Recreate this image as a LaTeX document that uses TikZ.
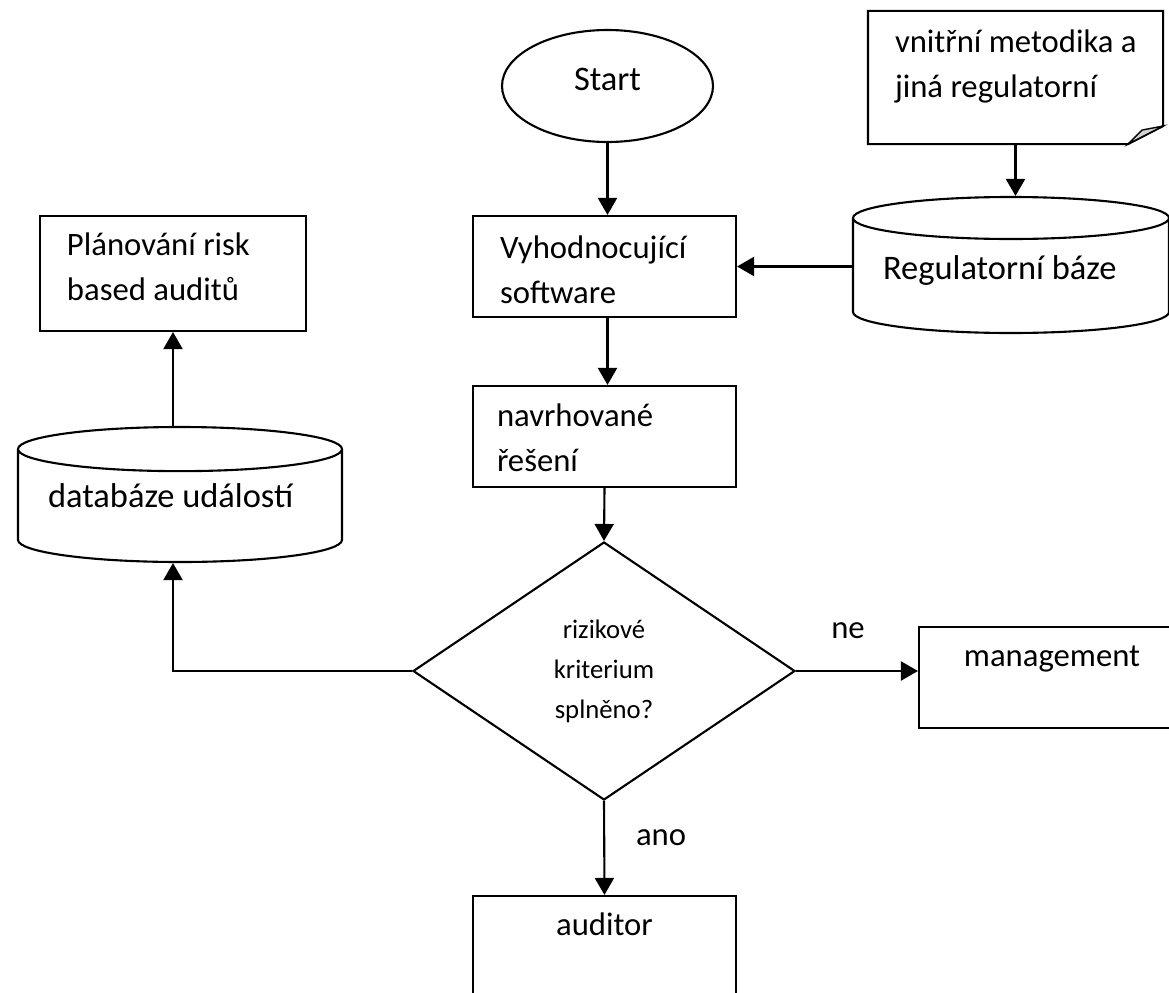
\documentclass[tikz,border=0pt]{standalone}
\usepackage{fontspec}
\setmainfont{Carlito}
\usetikzlibrary{positioning}
\usetikzlibrary{shapes.geometric}
\usetikzlibrary{arrows.meta}

\begin{document}
\begin{tikzpicture}[line width=0.6pt, font=\fontsize{9.3}{12.8}\selectfont,
		box/.style={draw, rectangle, minimum width=2.63cm, minimum height=1.01cm, inner sep=0pt},
		tank/.style={draw, cylinder, shape border rotate=90, aspect=0.18, inner sep=0pt, anchor=shape center, font=\fontsize{9.8}{12}\selectfont},
		txt/.style={align=left, inner sep=0pt},
		arr/.style={-{Triangle[length=1.7mm,width=1.9mm]}}]
		\useasboundingbox (0,0) rectangle (11.69,-9.93);

		%main column
		\node[draw, ellipse, minimum width=2.11cm, minimum height=1.12cm, inner sep=0pt, text depth=0.4em, font=\fontsize{9.8}{12}\selectfont] (start) at (6.075,-0.86) {Start};
		\node[box] (soft) at (6.045,-2.665) {};
		\node[box] (navrh) at (6.045,-4.365) {};
		\node[draw, diamond, minimum width=3.82cm, minimum height=2.58cm, inner sep=0pt, align=center, font=\fontsize{7.6}{11.4}\selectfont] (krit) at (6.04,-6.71) {rizikové\\kriterium\\splněno?};
		\node[box] (aud) at (6.045,-9.465) {};

		%right side
		\node[minimum width=2.93cm, minimum height=1.31cm, inner sep=0pt] (doc) at (10.155,-0.775) {};
		\draw (doc.north west) -- (doc.north east) -- ([yshift=1.8mm]doc.south east) -- ([xshift=-3.5mm]doc.south east) -- (doc.south west) -- cycle;
		\filldraw[fill=gray!35, line width=0.4pt] ([xshift=-3.5mm]doc.south east) -- ([xshift=-2.1mm,yshift=1.4mm]doc.south east) -- ([yshift=1.8mm]doc.south east) -- cycle;
		\node[tank, minimum width=3.16cm, minimum height=1.36cm] (regb) at (10.11,-2.65) {\phantom{Regulatorní báze}};
		\node[box, minimum width=2.66cm] (mgmt) at (10.52,-6.775) {};

		%left side
		\node[box, minimum width=2.66cm, minimum height=1.15cm] (plan) at (1.73,-2.735) {};
		\node[tank, minimum width=3.24cm, minimum height=1.35cm] (udal) at (1.80,-4.945) {\phantom{databáze událostí}};

		%texts (base = last line)
		\node[txt, anchor=base west] (soft-t) at ([xshift=2.7mm, yshift=-8.9mm]soft.north west) {Vyhodnocující\\software};
		\node[txt, anchor=base west] (navrh-t) at ([xshift=2.4mm, yshift=-8.7mm]navrh.north west) {navrhované\\řešení};
		\node[txt, anchor=base west] (plan-t) at ([xshift=2.7mm, yshift=-8.6mm]plan.north west) {Plánování risk\\based auditů};
		\node[txt, anchor=base west] (doc-t) at ([xshift=2.6mm, yshift=-8.7mm]doc.north west) {vnitřní metodika a\\jiná regulatorní};
		\node[txt, anchor=base] (mgmt-t) at ([yshift=-4.1mm]mgmt.north) {management};
		\node[txt, anchor=base] (aud-t) at ([yshift=-4.1mm]aud.north) {auditor};
		\node[txt, anchor=base west, font=\fontsize{9.8}{12}\selectfont] (regb-t) at ([xshift=-12.9mm, yshift=-1.4mm]regb.shape center) {Regulatorní báze};
		\node[txt, anchor=base west, font=\fontsize{9.8}{12}\selectfont] (udal-t) at ([xshift=-13.3mm, yshift=-1.25mm]udal.shape center) {databáze událostí};

		%arrows
		\draw[arr] (start.south) -- (start.south |- soft.north);
		\draw[arr] (doc.south) -- (doc.south |- regb.top);
		\draw[arr] (regb.west |- soft.east) -- (soft.east);
		\draw[arr] (soft.south -| start.south) -- (start.south |- navrh.north);
		\draw[arr] (navrh.south) -- (krit.north);
		\draw[arr] (krit.west) -| (plan.south |- udal.bottom);
		\draw[arr] (plan.south |- udal.top) -- (plan.south);
		\draw[arr] (krit.east) -- node[above=2mm, xshift=-0.9mm] {ne} (krit.east -| mgmt.west);
		\draw[arr] (krit.south) -- node[right=1.9mm, yshift=1mm] {ano} (aud.north);
	\end{tikzpicture}
\end{document}
